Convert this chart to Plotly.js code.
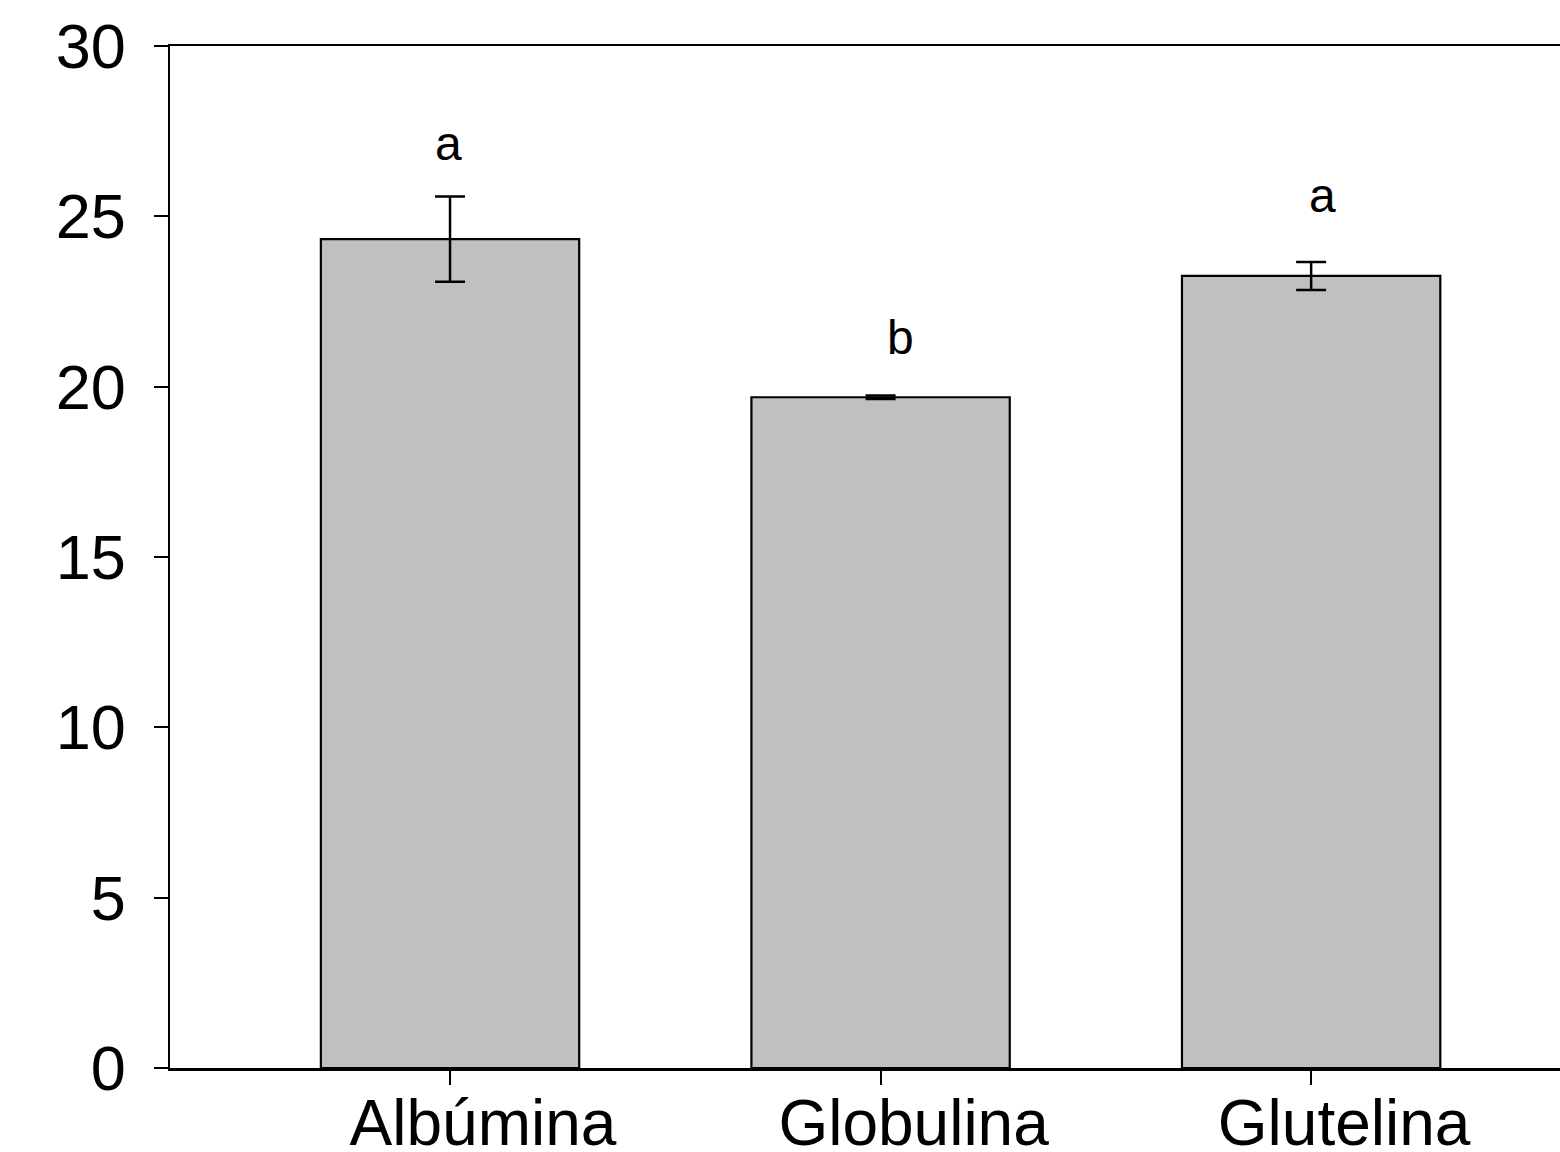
<!DOCTYPE html>
<html>
<head>
<meta charset="utf-8">
<script src="https://cdn.plot.ly/plotly-3.0.1.min.js"></script>
<style>html,body{margin:0;padding:0;background:#fff;}#chart{width:1560px;height:1152px;}</style>
</head>
<body>
<div id="chart"></div>
<script>
const categories = ["Albúmina", "Globulina", "Glutelina"];
const values = [24.33, 19.69, 23.25];
const errors = [1.25, 0.05, 0.41];
const letters = ["a", "b", "a"];
const letterY = [27.15, 21.43, 25.6];
const yTicks = [0, 5, 10, 15, 20, 25, 30];

const font = "Liberation Sans, Arial, sans-serif";
const letterShift = [-2, 20, 11];

const trace = {
  type: "bar",
  x: categories,
  y: values,
  width: 0.6,
  marker: { color: "#c0c0c0", line: { color: "#000", width: 2.2 } },
  error_y: { type: "data", array: errors, visible: true, color: "#000", thickness: 2.5, width: 15 },
  hoverinfo: "none"
};

const annotations = letters.map((t, i) => ({
  x: categories[i], y: letterY[i], xref: "x", yref: "y",
  text: t, showarrow: false, xshift: letterShift[i],
  xanchor: "center", yanchor: "middle",
  font: { family: font, size: 48, color: "#000" }
}));

const layout = {
  width: 1560, height: 1152,
  margin: { l: 170, r: 0, t: 46, b: 84 },
  paper_bgcolor: "#fff", plot_bgcolor: "#fff",
  showlegend: false,
  font: { family: font, color: "#000" },
  xaxis: {
    type: "category", range: [-0.6504, 2.578],
    showline: true, linecolor: "#000", linewidth: 2.5, mirror: true,
    ticks: "outside", ticklen: 14, tickwidth: 2, tickcolor: "#000",
    showgrid: false, zeroline: false,
    tickfont: { family: font, size: 64, color: "#000" },
    ticklabelstandoff: -16,
    ticklabelshift: 33
  },
  yaxis: {
    range: [0, 30], tickvals: yTicks, ticktext: yTicks.map(String),
    showline: true, linecolor: "#000", linewidth: 2.5, mirror: false,
    ticks: "outside", ticklen: 14, tickwidth: 2, tickcolor: "#000",
    showgrid: false, zeroline: false,
    tickfont: { family: font, size: 63, color: "#000" },
    ticklabelstandoff: 15
  },
  annotations: annotations
};

Plotly.newPlot("chart", [trace], layout, { displayModeBar: false, staticPlot: true });
</script>
</body>
</html>
